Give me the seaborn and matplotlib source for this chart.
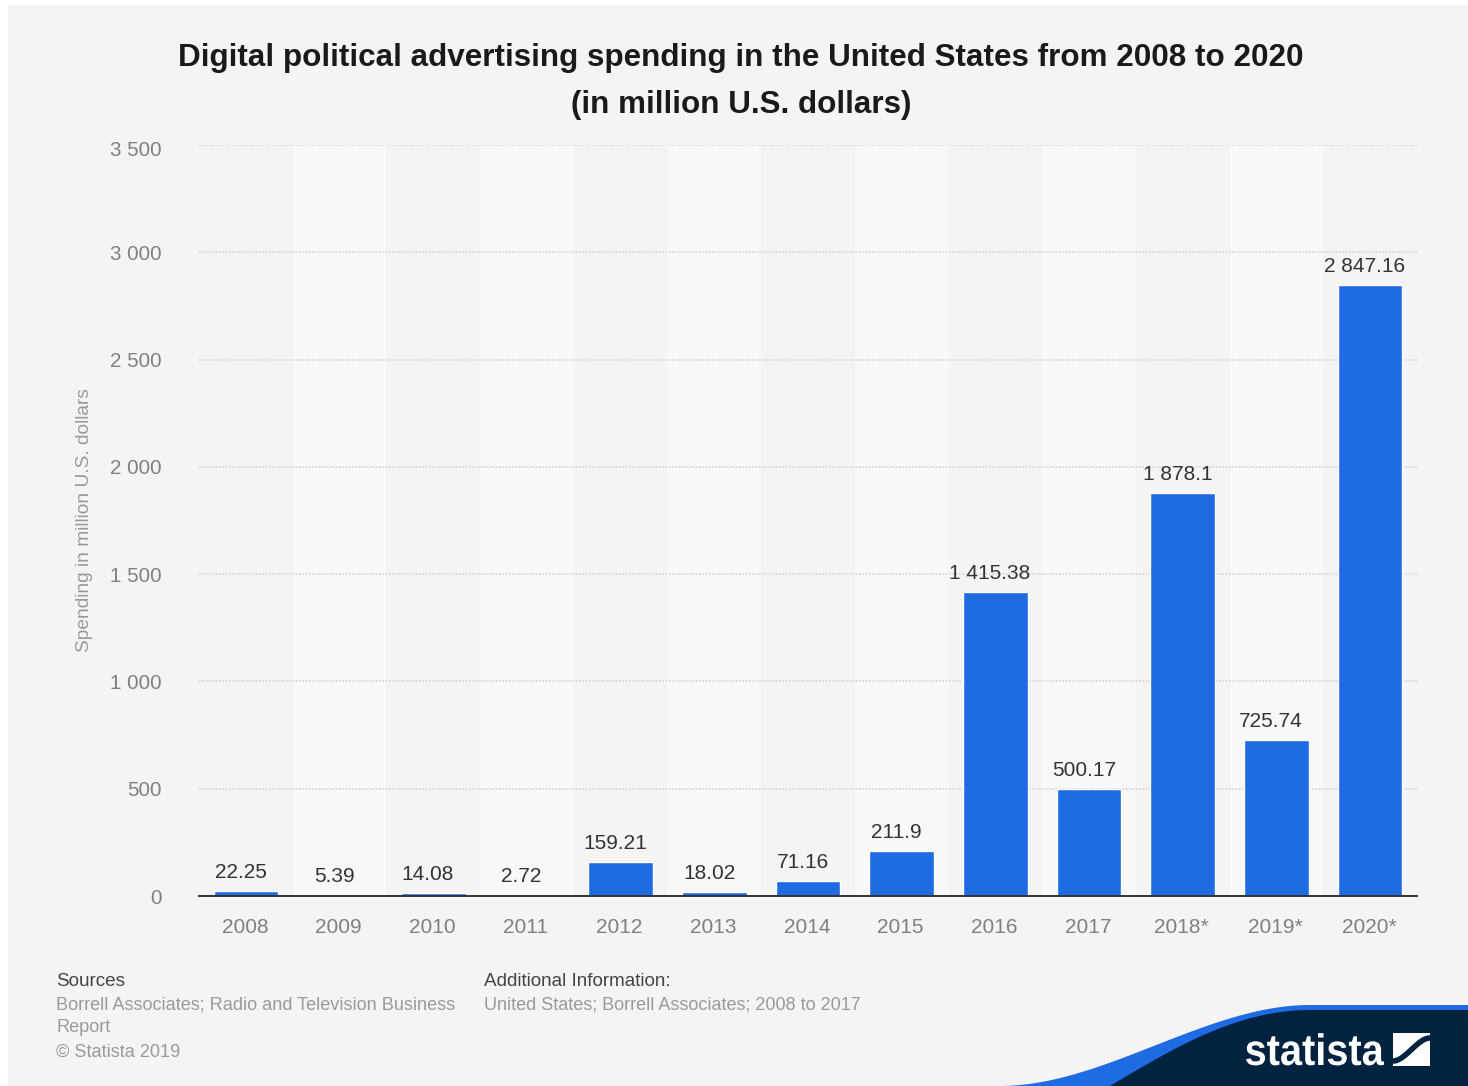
import numpy as np
import pandas as pd
import seaborn as sns
import matplotlib.pyplot as plt
from matplotlib.patches import Rectangle, Polygon, PathPatch
from matplotlib.textpath import TextPath
from matplotlib.font_manager import FontProperties
from matplotlib.transforms import Affine2D, ScaledTranslation

years = ["2008", "2009", "2010", "2011", "2012", "2013", "2014", "2015", "2016", "2017", "2018*", "2019*", "2020*"]
spending = [22.25, 5.39, 14.08, 2.72, 159.21, 18.02, 71.16, 211.9, 1415.38, 500.17, 1878.1, 725.74, 2847.16]
bar_labels = ["22.25", "5.39", "14.08", "2.72", "159.21", "18.02", "71.16", "211.9", "1 415.38", "500.17", "1 878.1", "725.74", "2 847.16"]
y_ticks = [0, 500, 1000, 1500, 2000, 2500, 3000, 3500]
y_tick_labels = ["0", "500", "1 000", "1 500", "2 000", "2 500", "3 000", "3 500"]

W, H = 1468, 1086
BLUE = "#1e6be4"
NAVY = "#02233f"

sns.set_theme(style="white")
plt.rcParams['font.family'] = ['Liberation Sans', 'DejaVu Sans']

fig = plt.figure(figsize=(W / 100, H / 100), dpi=100, facecolor="white")

# pixel overlay for the card background, footer and logo
bg = fig.add_axes([0, 0, 1, 1], zorder=0)
bg.set_xlim(0, W)
bg.set_ylim(H, 0)
bg.axis("off")
bg.add_patch(Rectangle((8, 5), W - 8, H - 5, color="#f4f4f4", lw=0))

# footer swoosh
t = np.linspace(0, 1, 80)
blue_x = 1000 + 310 * t
blue_y = 1086 - 81 * (t * t * (3 - 2 * t))
navy_x = 1110 + 200 * t
navy_y = 1086 - 76 * np.sin(np.pi / 2 * t)
bg.add_patch(Polygon(np.vstack([np.column_stack([blue_x, blue_y]), [[W, 1005], [W, H]]]), closed=True, color=BLUE, lw=0))
bg.add_patch(Polygon(np.vstack([np.column_stack([navy_x, navy_y]), [[W, 1010], [W, H]]]), closed=True, color=NAVY, lw=0))

# logo mark
bg.add_patch(Rectangle((1393, 1033), 37, 33, color="white", lw=0))
s = t * t * (3 - 2 * t)
bg.plot(1393 + 37 * t, 1061 - 23 * s, color=NAVY, lw=4, solid_capstyle="butt")

# logo word is condensed, no narrow font here so squeeze the outline
logo = TextPath((0, 0), "statista", size=44, prop=FontProperties(family="Liberation Sans", weight="bold"))
box = logo.get_extents()
squeeze = Affine2D().translate(-box.x0, 0).scale(138 / box.width, -1).translate(1246, 1065)
bg.add_patch(PathPatch(squeeze.transform_path(logo), color="white", lw=0))

# title
bg.text(741, 58, "Digital political advertising spending in the United States from 2008 to 2020",
        ha="center", va="center", fontsize=22.6, fontweight="bold", color="#1a1a1a")
bg.text(741, 105, "(in million U.S. dollars)", ha="center", va="center", fontsize=22.6, fontweight="bold", color="#1a1a1a")

# footer
foot_grey = "#9a9a9a"
foot_size = 13.1
bg.text(56, 981, "Sources", fontsize=13.6, color="#444444", va="center")
bg.text(56, 1005, "Borrell Associates; Radio and Television Business", fontsize=foot_size, color=foot_grey, va="center")
bg.text(56, 1028, "Report", fontsize=foot_size, color=foot_grey, va="center")
bg.text(56, 1052, "© Statista 2019", fontsize=foot_size, color=foot_grey, va="center")
bg.text(484, 981, "Additional Information:", fontsize=13.6, color="#444444", va="center")
bg.text(484, 1005, "United States; Borrell Associates; 2008 to 2017", fontsize=13, color=foot_grey, va="center")

# main plot
left, right, top, bottom = 199, 1417, 145, 896
ax = fig.add_axes([left / W, 1 - bottom / H, (right - left) / W, (bottom - top) / H], zorder=1)
ax.patch.set_alpha(0)

df = pd.DataFrame({"year": years, "spending": spending})
sns.barplot(data=df, x="year", y="spending", color=BLUE, saturation=1, width=0.69, ax=ax, zorder=3)

ax.set_xlim(-0.5, len(years) - 0.5)
ax.set_ylim(0, 3500)
for i in range(1, len(years), 2):
    ax.axvspan(i - 0.5, i + 0.5, color="#f8f8f8", lw=0, zorder=0)

ax.set_yticks(y_ticks)
ax.set_yticklabels(y_tick_labels)
ax.grid(axis="y", color="#d4d4d4", linestyle=(0, (1, 1)), linewidth=1.2, zorder=1)
ax.set_axisbelow(True)
ax.tick_params(axis="y", length=0, pad=27, labelsize=14.8, labelcolor="#808080")
ax.tick_params(axis="x", length=0, pad=16, labelsize=15, labelcolor="#808080")
ax.set_xlabel("")
ax.set_ylabel("Spending in million U.S. dollars", fontsize=13.8, color="#999999", labelpad=12)
sns.despine(ax=ax, left=True, top=True, right=True)
ax.spines["bottom"].set_color("#333333")
ax.spines["bottom"].set_linewidth(1.4)
ax.spines["bottom"].set_zorder(5)

# small nudges, the source has its labels a bit off the ticks
shift_x = ScaledTranslation(-1 / 100, 0, fig.dpi_scale_trans)
for lab in ax.get_xticklabels():
    lab.set_transform(lab.get_transform() + shift_x)
top_lab = ax.get_yticklabels()[-1]
top_lab.set_transform(top_lab.get_transform() + ScaledTranslation(0, -3 / 100, fig.dpi_scale_trans))

for i, (val, lab) in enumerate(zip(spending, bar_labels)):
    ax.annotate(lab, (i, val), xytext=(-3.8, 6.5), textcoords="offset points", ha="center", va="bottom",
                fontsize=15, color="#333333", zorder=6)

fig.savefig("out.png", dpi=100, facecolor=fig.get_facecolor())
